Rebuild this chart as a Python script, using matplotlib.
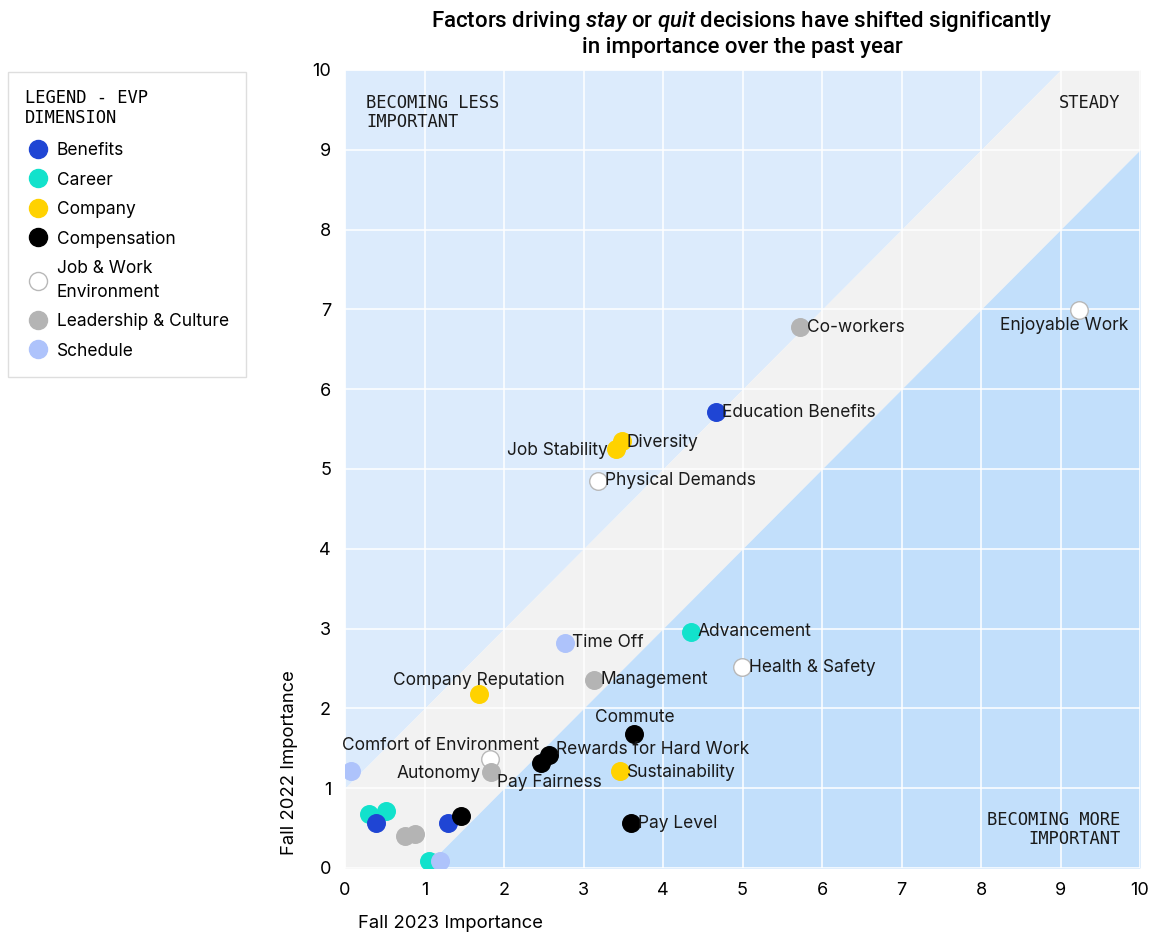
import matplotlib.pyplot as plt
from matplotlib.lines import Line2D
import numpy as np

plt.rcParams['font.family'] = ['Inter', 'DejaVu Sans']
plt.rcParams['mathtext.fontset'] = 'custom'
plt.rcParams['mathtext.it'] = 'Roboto:italic:medium'
plt.rcParams['mathtext.rm'] = 'Roboto:medium'

# Importance scores per factor
names = ['Enjoyable Work', 'Co-workers', 'Education Benefits', 'Diversity', 'Job Stability',
         'Physical Demands', 'Time Off', 'Advancement', 'Health & Safety', 'Company Reputation',
         'Management', 'Commute', 'Rewards for Hard Work', 'Pay Fairness', 'Comfort of Environment',
         'Autonomy', 'Sustainability', 'Pay Level',
         '', '', '', '', '', '', '', '', '', '']
fall_2023 = [9.23, 5.72, 4.67, 3.48, 3.41,
             3.18, 2.77, 4.35, 4.99, 1.68,
             3.13, 3.64, 2.57, 2.47, 1.82,
             1.84, 3.46, 3.60,
             0.07, 0.30, 0.51, 0.39, 0.76, 0.88, 1.30, 1.46, 1.06, 1.19]
fall_2022 = [6.99, 6.78, 5.71, 5.35, 5.25,
             4.85, 2.82, 2.96, 2.52, 2.18,
             2.36, 1.68, 1.41, 1.32, 1.37,
             1.20, 1.21, 0.56,
             1.21, 0.68, 0.71, 0.56, 0.40, 0.43, 0.57, 0.65, 0.09, 0.09]
dimension = ['Job & Work Environment', 'Leadership & Culture', 'Benefits', 'Company', 'Company',
             'Job & Work Environment', 'Schedule', 'Career', 'Job & Work Environment', 'Company',
             'Leadership & Culture', 'Compensation', 'Compensation', 'Compensation', 'Job & Work Environment',
             'Leadership & Culture', 'Company', 'Compensation',
             'Schedule', 'Career', 'Career', 'Benefits', 'Leadership & Culture', 'Leadership & Culture',
             'Benefits', 'Compensation', 'Career', 'Schedule']

dims = ['Benefits', 'Career', 'Company', 'Compensation', 'Job & Work Environment',
        'Leadership & Culture', 'Schedule']
dim_labels = ['Benefits', 'Career', 'Company', 'Compensation', 'Job & Work\nEnvironment',
              'Leadership & Culture', 'Schedule']
dim_colors = {'Benefits': '#1f45d4', 'Career': '#12e2cc', 'Company': '#ffd200',
              'Compensation': '#000000', 'Job & Work Environment': '#ffffff',
              'Leadership & Culture': '#b4b4b4', 'Schedule': '#aec3fb'}

# label offsets in pixels (dx, dy, ha)
label_pos = {
    'Enjoyable Work': (-15, -15, 'center'),
    'Co-workers': (7, -1, 'left'),
    'Education Benefits': (6, 0, 'left'),
    'Diversity': (5, -1, 'left'),
    'Job Stability': (-8, -1, 'right'),
    'Physical Demands': (7, 0, 'left'),
    'Time Off': (7, 0, 'left'),
    'Advancement': (7, 0, 'left'),
    'Health & Safety': (7, -1, 'left'),
    'Company Reputation': (0, 14, 'center'),
    'Management': (7, 0, 'left'),
    'Commute': (0, 16, 'center'),
    'Rewards for Hard Work': (7, 6, 'left'),
    'Pay Fairness': (8, -20, 'center'),
    'Comfort of Environment': (-49, 13, 'center'),
    'Autonomy': (-11, -1, 'right'),
    'Sustainability': (7, -1, 'left'),
    'Pay Level': (7, 0, 'left'),
}

fig = plt.figure(figsize=(11.64, 9.35), dpi=100)
ax = fig.add_axes([345 / 1164, 1 - 868 / 935, 795 / 1164, 798 / 935])
ax.set_xlim(0, 10)
ax.set_ylim(0, 10)

# background zones
xs = np.linspace(0, 10, 201)
ax.fill_between(xs, np.minimum(xs + 1, 10), 10, color='#dcebfc', lw=0, zorder=0)
ax.fill_between(xs, np.maximum(xs - 1, 0), np.minimum(xs + 1, 10), color='#f2f2f2', lw=0, zorder=0)
ax.fill_between(xs, 0, np.maximum(xs - 1, 0), color='#c2dffb', lw=0, zorder=0)

ax.set_xticks(range(0, 11))
ax.set_yticks(range(0, 11))
ax.grid(True, color='white', lw=1.1, zorder=1)
ax.set_axisbelow(False)
ax.tick_params(length=0, labelsize=13, pad=10)
for s in ax.spines.values():
    s.set_visible(False)

for i in range(len(names)):
    c = dim_colors[dimension[i]]
    ec = '#b8b8b8' if c == '#ffffff' else c
    ax.scatter(fall_2023[i], fall_2022[i], s=160, color=c, edgecolors=ec, linewidths=1, zorder=3)
    if names[i]:
        dx, dy, ha = label_pos[names[i]]
        ax.annotate(names[i], (fall_2023[i], fall_2022[i]), xytext=(dx, dy),
                    textcoords='offset pixels', ha=ha, va='center', fontsize=12.5,
                    color='#1a1a1a', zorder=4)

mono = 'DejaVu Sans Mono'
ax.text(0.027, 0.97, 'BECOMING LESS\nIMPORTANT', transform=ax.transAxes, family=mono,
        fontsize=12.3, va='top', ha='left', linespacing=1.1, color='#1a1a1a')
ax.text(0.975, 0.97, 'STEADY', transform=ax.transAxes, family=mono,
        fontsize=12.3, va='top', ha='right', color='#1a1a1a')
ax.text(0.975, 0.025, 'BECOMING MORE\nIMPORTANT', transform=ax.transAxes, family=mono,
        fontsize=12.3, va='bottom', ha='right', multialignment='right', linespacing=1.1,
        color='#1a1a1a')

fig.text(742 / 1164, 1 - 9 / 935, 'Factors driving $stay$ or $quit$ decisions have shifted significantly\nin importance over the past year',
         ha='center', va='top', fontsize=16, family='Roboto', fontweight='medium', linespacing=1.2)

fig.text(358 / 1164, 1 - 924 / 935, 'Fall 2023 Importance', ha='left', va='center', fontsize=13.3)
fig.text(290 / 1164, 1 - 855 / 935, 'Fall 2022 Importance', ha='center', va='bottom',
         rotation=90, fontsize=13.3)

handles = []
for d in dims:
    c = dim_colors[d]
    ec = '#b8b8b8' if c == '#ffffff' else c
    handles.append(Line2D([], [], marker='o', ls='', markersize=13, markerfacecolor=c,
                          markeredgecolor=ec, markeredgewidth=1))
leg = fig.legend(handles, dim_labels, loc='upper left', bbox_to_anchor=(8 / 1164, 1 - 72 / 935),
                 title='LEGEND - EVP\nDIMENSION', alignment='left', fontsize=12.5,
                 frameon=True, fancybox=False, edgecolor='#d6d6d6', borderpad=1.0,
                 borderaxespad=0, handletextpad=0.3, labelspacing=0.72, handlelength=1.5,
                 title_fontproperties={'family': mono, 'size': 12.3})
leg.get_frame().set_linewidth(1)
leg._legend_box.sep = 11
leg.get_title().set_linespacing(1.1)
for t in leg.get_texts():
    t.set_linespacing(1.5)

fig.savefig('out.png', dpi=100)
